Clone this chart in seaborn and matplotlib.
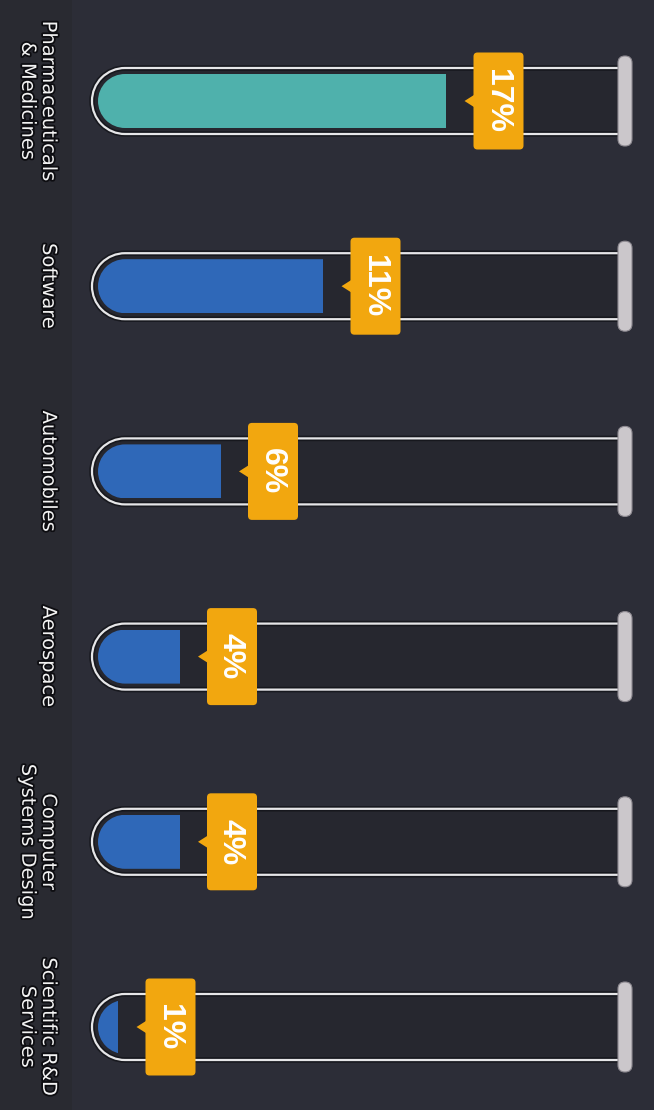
import numpy as np
import pandas as pd
import seaborn as sns
import matplotlib
matplotlib.use("Agg")
import matplotlib.pyplot as plt
import matplotlib.patheffects as pe
from matplotlib.path import Path
from matplotlib.patches import PathPatch, FancyBboxPatch, Polygon, Rectangle
from matplotlib.transforms import Affine2D

# ---- data -------------------------------------------------------------
sectors = [
    "Pharmaceuticals\n& Medicines",
    "Software",
    "Automobiles",
    "Aerospace",
    "Computer\nSystems Design",
    "Scientific R&D\nServices",
]
shares = [17, 11, 6, 4, 4, 1]
share_labels = ["17%", "11%", "6%", "4%", "4%", "1%"]
bar_colors = ["#4fb1ac", "#2f68b8", "#2f68b8", "#2f68b8", "#2f68b8", "#2f68b8"]

# ---- style ------------------------------------------------------------
BG = "#2c2d37"
STRIP = "#292a31"
TUBE_FILL = "#26272f"
OUTLINE = "#e6e6e8"
CAP = "#cbc7cb"
BADGE = "#f2a70f"

sns.set_theme(style="dark")
plt.rcParams["font.family"] = ["DejaVu Sans"]

W, H = 654, 1110
PPX = 20.5           # pixels per percentage point
PPY = 185.2          # pixels per category row
X0_PX = 98           # pixel column of the zero line
ROW0_PX = 101        # pixel row of the first tube

XMIN = -X0_PX / PPX
XMAX = (W - X0_PX) / PPX
YTOP = -ROW0_PX / PPY
YBOT = (H - ROW0_PX) / PPY

fig = plt.figure(figsize=(W / 100, H / 100), dpi=100, facecolor=BG)
ax = fig.add_axes([0, 0, 1, 1])
ax.patch.set_visible(False)

df = pd.DataFrame({"sector": sectors, "share": shares})
BAR_H = 54  # px
sns.barplot(data=df, x="share", y="sector", hue="sector", palette=bar_colors,
            orient="h", width=BAR_H / PPY, saturation=1, edgecolor="none",
            legend=False, ax=ax)
bars = list(ax.patches)

ax.set_xlim(XMIN, XMAX)
ax.set_ylim(YBOT, YTOP)
ax.axis("off")

# pixel-like frame (origin top-left, isotropic) layered on the data axes
PXT = Affine2D().scale(1 / PPX, 1 / PPY).translate(XMIN, YTOP) + ax.transData


def to_px(x, y):
    return (x - XMIN) * PPX, (y - YTOP) * PPY


def capsule(x0, x1, yc, h, left=True, right=False):
    r = h / 2.0
    verts, codes = [], []

    def add_arc(cx, t1, t2):
        arc = Path.arc(t1, t2)
        v = arc.vertices * r + np.array([cx, yc])
        c = arc.codes.copy()
        c[0] = Path.LINETO
        verts.extend(v.tolist())
        codes.extend(c.tolist())

    if left:
        verts.append((x0 + r, yc + r)); codes.append(Path.MOVETO)
        add_arc(x0 + r, 90, 270)
    else:
        verts += [(x0, yc + r), (x0, yc - r)]
        codes += [Path.MOVETO, Path.LINETO]
    if right:
        verts.append((x1 - r, yc - r)); codes.append(Path.LINETO)
        add_arc(x1 - r, 270, 450)
    else:
        verts += [(x1, yc - r), (x1, yc + r)]
        codes += [Path.LINETO, Path.LINETO]
    verts.append((0, 0)); codes.append(Path.CLOSEPOLY)
    return Path(verts, codes)


# darker label column on the left
ax.add_patch(Rectangle((0, 0), 72, H, transform=PXT, facecolor=STRIP,
                       edgecolor="none", zorder=0))

TUBE_H = 66
TUBE_RIGHT = 622
zero_px, _ = to_px(0, 0)
clips = {}
for i, sector in enumerate(sectors):
    _, yc = to_px(0, i)
    r_out = TUBE_H / 2
    r_in = BAR_H / 2
    x_out = zero_px + r_in - r_out

    tube = capsule(x_out, TUBE_RIGHT, yc, TUBE_H)
    ax.add_patch(PathPatch(tube, transform=PXT, facecolor=TUBE_FILL,
                           edgecolor="none", zorder=1))
    ax.add_patch(PathPatch(tube, transform=PXT, facecolor="none",
                           edgecolor=OUTLINE, lw=1.6, zorder=3,
                           path_effects=[pe.Stroke(linewidth=4.0, foreground="#101116", alpha=0.7),
                                         pe.Normal()]))
    clips[i] = PathPatch(capsule(zero_px, TUBE_RIGHT - 2, yc, BAR_H),
                         transform=PXT, facecolor="none", edgecolor="none")

    # stopper cap at the open end
    ax.add_patch(FancyBboxPatch((TUBE_RIGHT - 4, yc - 45), 14, 90,
                                boxstyle="round,pad=0,rounding_size=7",
                                transform=PXT, facecolor=CAP,
                                edgecolor="#8f8b92", lw=0.8, zorder=3))

    # category label
    ax.text(58, yc, sector, transform=PXT, rotation=-90,
            ha="right", va="center", multialignment="center", linespacing=1.12,
            color="#f2f2f2", fontsize=14, family=["DejaVu Sans"], zorder=6,
            path_effects=[pe.withStroke(linewidth=2.6, foreground="#0d0d11")])

    # value badge
    end_px, _ = to_px(shares[i], i)
    bx = end_px + 27
    ax.add_patch(Polygon([(bx + 2, yc - 7), (bx - 9, yc), (bx + 2, yc + 7)],
                         closed=True, transform=PXT, facecolor=BADGE,
                         edgecolor="none", zorder=4))
    ax.add_patch(FancyBboxPatch((bx, yc - 48.5), 50, 97,
                                boxstyle="round,pad=0,rounding_size=4",
                                transform=PXT, facecolor=BADGE,
                                edgecolor="none", zorder=4))
    ax.text(bx + 24, yc, share_labels[i], transform=PXT, rotation=-90,
            ha="center", va="center", color="white", fontsize=23,
            fontweight="bold", family=["Liberation Sans", "DejaVu Sans"], zorder=5)

# bars: round their left end to follow the tube
for p in bars:
    idx = int(round(p.get_y() + p.get_height() / 2))
    if idx in clips:
        p.set_zorder(2)
        p.set_clip_path(clips[idx])

fig.savefig("out.png", dpi=100, facecolor=fig.get_facecolor())
